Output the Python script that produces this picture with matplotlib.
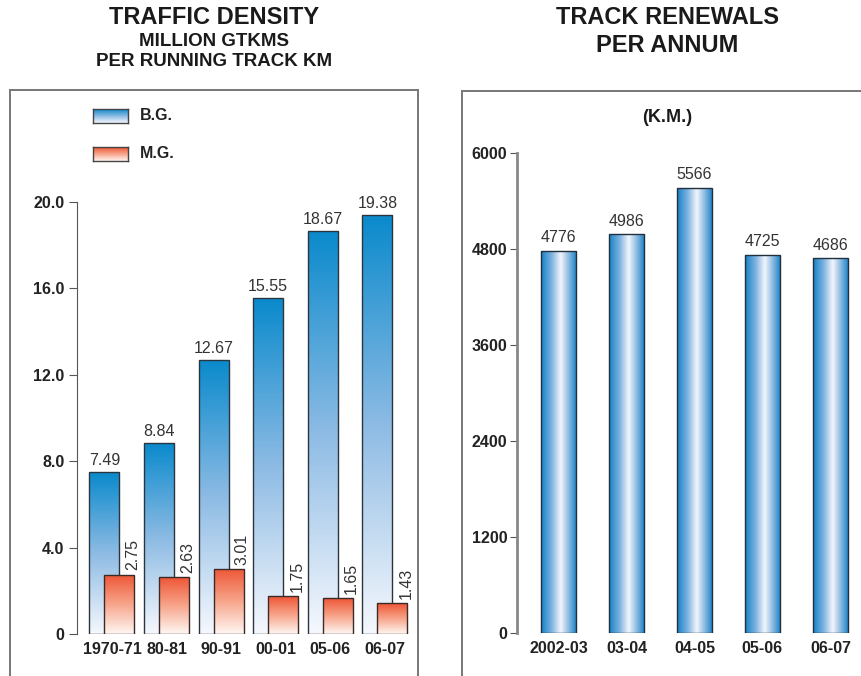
import numpy as np
import matplotlib
matplotlib.use("Agg")
import matplotlib.pyplot as plt
from matplotlib.colors import LinearSegmentedColormap
from matplotlib.patches import Rectangle

plt.rcParams['font.family'] = ['Liberation Sans', 'DejaVu Sans']

# ---- data ----
td_categories = ["1970-71", "80-81", "90-91", "00-01", "05-06", "06-07"]
td_bg = [7.49, 8.84, 12.67, 15.55, 18.67, 19.38]
td_mg = [2.75, 2.63, 3.01, 1.75, 1.65, 1.43]
td_yticks = [0, 4, 8, 12, 16, 20]
td_yticklabels = ["0", "4.0", "8.0", "12.0", "16.0", "20.0"]

tr_categories = ["2002-03", "03-04", "04-05", "05-06", "06-07"]
tr_values = [4776, 4986, 5566, 4725, 4686]
tr_yticks = [0, 1200, 2400, 3600, 4800, 6000]

W, H = 861, 676
fig = plt.figure(figsize=(W / 100, H / 100), dpi=100)

bg_cmap = LinearSegmentedColormap.from_list("bg", ["#f6f8fd", "#8dbbe4", "#0a8acc"])
mg_cmap = LinearSegmentedColormap.from_list("mg", ["#fff7f3", "#f7a58b", "#ee5535"])
tr_cmap = LinearSegmentedColormap.from_list(
    "tr", [(0.0, "#1581c6"), (0.3, "#7fb3e0"), (0.55, "#f3f6fc"), (0.8, "#7fb3e0"), (1.0, "#1581c6")])

vgrad = np.linspace(0, 1, 256).reshape(-1, 1)
hgrad = np.linspace(0, 1, 256).reshape(1, -1)

TXT = '#1a1a1a'
VAL = '#333333'


def fill_gradient(ax, rect, cmap, vertical=True):
    x, y = rect.get_x(), rect.get_y()
    w, h = rect.get_width(), rect.get_height()
    img = vgrad if vertical else hgrad
    im = ax.imshow(img, cmap=cmap, aspect='auto', origin='lower',
                   extent=(x, x + w, y, y + h), zorder=rect.get_zorder() - 0.1,
                   interpolation='bilinear')
    im.set_clip_path(rect)


def fpx(x, y, w, h):
    return [x / W, 1 - (y + h) / H, w / W, h / H]


# frames
fig.patches.append(Rectangle((10 / W, -0.05), (418 - 10) / W, 1.05 - 90 / H,
                             transform=fig.transFigure, fill=False,
                             edgecolor="#777777", lw=1.4))
fig.patches.append(Rectangle((462 / W, -0.05), (870 - 462) / W, 1.05 - 91 / H,
                             transform=fig.transFigure, fill=False,
                             edgecolor="#777777", lw=1.4))

# titles
fig.text(214 / W, 1 - 18 / H, "TRAFFIC DENSITY", ha='center', va='center',
         fontsize=17, fontweight='bold', color=TXT)
fig.text(214 / W, 1 - 42 / H, "MILLION GTKMS", ha='center', va='center',
         fontsize=13.5, fontweight='bold', color=TXT)
fig.text(214 / W, 1 - 61 / H, "PER RUNNING TRACK KM", ha='center', va='center',
         fontsize=13.5, fontweight='bold', color=TXT)
fig.text(667 / W, 1 - 18 / H, "TRACK RENEWALS", ha='center', va='center',
         fontsize=17, fontweight='bold', color=TXT)
fig.text(667 / W, 1 - 45 / H, "PER ANNUM", ha='center', va='center',
         fontsize=17, fontweight='bold', color=TXT)
fig.text(667 / W, 1 - 117 / H, "(K.M.)", ha='center', va='center',
         fontsize=13, fontweight='bold', color=TXT)

# ---- left chart ----
ax1 = fig.add_axes(fpx(77, 202, 333, 432))
ax1.set_xlim(-0.64, 5.46)
ax1.set_ylim(0, 20)
x = np.arange(len(td_categories))
bw = 0.55
off = 0.137
bars_bg = ax1.bar(x - off, td_bg, bw, facecolor='none', edgecolor='#2b3540', lw=1.0, zorder=3)
bars_mg = ax1.bar(x + off, td_mg, bw, facecolor='none', edgecolor='#3a2a28', lw=1.0, zorder=5)
for r in bars_bg:
    fill_gradient(ax1, r, bg_cmap)
for r in bars_mg:
    fill_gradient(ax1, r, mg_cmap)
for xi, v in zip(x, td_bg):
    ax1.annotate(f"{v:.2f}", (xi - off, v), xytext=(0, 3), textcoords='offset points',
                 ha='center', va='bottom', fontsize=11.5, color=VAL, clip_on=False)
for xi, v in zip(x, td_mg):
    ax1.annotate(f"{v:.2f}", (xi + off + 0.25, v), xytext=(0, 3), textcoords='offset points',
                 ha='center', va='bottom', rotation=90, fontsize=11.5, color=VAL,
                 clip_on=False, zorder=6)
ax1.set_xticks(x)
ax1.set_xticklabels(td_categories, fontsize=11.5, fontweight='bold', color='#222222')
ax1.set_yticks(td_yticks)
ax1.set_yticklabels(td_yticklabels, fontsize=11.5, fontweight='bold', color='#222222')
ax1.tick_params(axis='x', length=0, pad=6)
ax1.tick_params(axis='y', length=6, width=0.8, color='#555555', pad=3)
for s in ['top', 'right', 'bottom']:
    ax1.spines[s].set_visible(False)
ax1.spines['left'].set_color('#555555')
ax1.spines['left'].set_linewidth(0.8)
ax1.patch.set_alpha(0)

# legend swatches
for (yy, cmap, label) in [(109, bg_cmap, "B.G."), (147, mg_cmap, "M.G.")]:
    la = fig.add_axes(fpx(93, yy, 35, 14))
    la.imshow(vgrad, cmap=cmap, aspect='auto', origin='lower', extent=(0, 1, 0, 1),
              interpolation='bilinear')
    la.set_xticks([]); la.set_yticks([])
    for s in la.spines.values():
        s.set_color('#444444'); s.set_linewidth(1.0)
    fig.text(140 / W, 1 - (yy + 7) / H, label, ha='left', va='center',
             fontsize=11.5, fontweight='bold', color='#222222')

# ---- right chart ----
ax2 = fig.add_axes(fpx(517, 153, 344, 480))
ax2.set_xlim(-0.61, 4.45)
ax2.set_ylim(0, 6000)
x2 = np.arange(len(tr_categories))
bars_tr = ax2.bar(x2, tr_values, 0.515, facecolor='none', edgecolor='#22303c', lw=1.0, zorder=3)
for r in bars_tr:
    fill_gradient(ax2, r, tr_cmap, vertical=False)
for xi, v in zip(x2, tr_values):
    ax2.annotate(f"{v}", (xi, v), xytext=(0, 4), textcoords='offset points',
                 ha='center', va='bottom', fontsize=11.5, color=VAL, clip_on=False)
ax2.set_xticks(x2)
ax2.set_xticklabels(tr_categories, fontsize=11.5, fontweight='bold', color='#222222')
ax2.set_yticks(tr_yticks)
ax2.set_yticklabels([str(t) for t in tr_yticks], fontsize=11.5, fontweight='bold', color='#222222')
ax2.tick_params(axis='x', length=0, pad=6)
ax2.tick_params(axis='y', length=5, width=0.8, color='#555555', pad=2)
for s in ['top', 'right', 'bottom']:
    ax2.spines[s].set_visible(False)
ax2.spines['left'].set_color('#888888')
ax2.spines['left'].set_linewidth(2.0)
ax2.patch.set_alpha(0)

fig.savefig("out.png", dpi=100)
